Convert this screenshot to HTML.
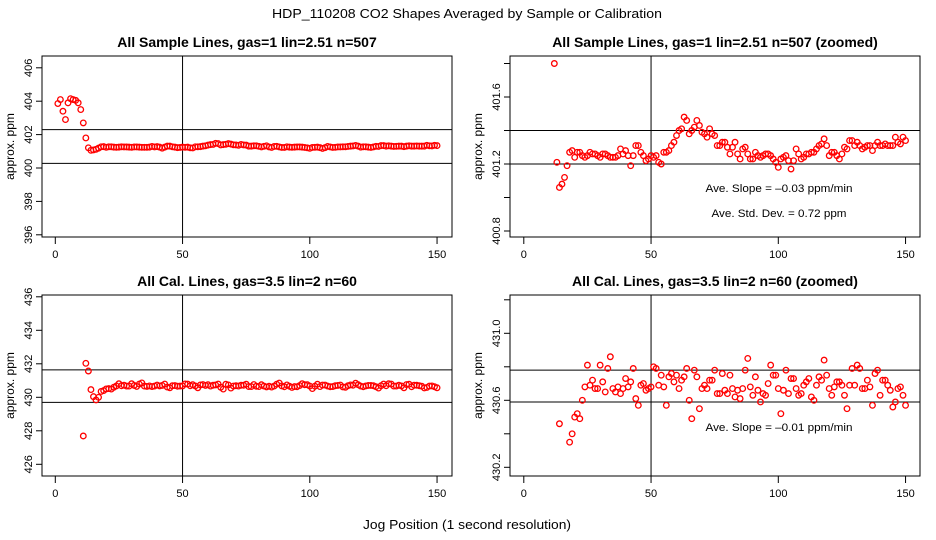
<!DOCTYPE html>
<html><head><meta charset="utf-8"><style>
html,body{margin:0;padding:0;background:#fff;width:936px;height:540px;overflow:hidden}
svg{display:block;position:absolute;left:0;top:0;font-family:"Liberation Sans",sans-serif}
</style></head><body>
<svg id="fig" width="936" height="540" viewBox="0 0 936 540">
<text x="467" y="18" text-anchor="middle" font-size="13" textLength="390" lengthAdjust="spacingAndGlyphs">HDP_110208  CO2 Shapes Averaged by Sample or Calibration</text>
<text x="467" y="529" text-anchor="middle" font-size="13" textLength="208" lengthAdjust="spacingAndGlyphs">Jog Position (1 second resolution)</text>
</svg>
<script>
const sampleStart = 1;
const sampleValues = [403.86,404.1,403.4,402.9,403.9,404.15,404.1,404.05,403.9,403.5,402.7,
401.80,401.21,401.06,401.08,401.12,401.19,401.27,401.28,401.24,401.27,401.27,401.25,401.24,401.25,401.27,401.26,401.26,401.25,401.24,401.26,401.26,401.25,401.24,401.24,401.24,401.25,401.29,401.26,401.28,401.25,401.19,401.25,401.31,401.31,401.27,401.25,401.22,401.23,401.25,401.24,401.25,401.21,401.20,401.27,401.27,401.28,401.31,401.33,401.37,401.40,401.41,401.48,401.46,401.38,401.40,401.42,401.46,401.43,401.39,401.38,401.36,401.41,401.38,401.37,401.31,
401.31,401.33,401.33,401.30,401.26,401.30,401.33,401.26,401.23,401.29,401.30,401.26,401.23,401.23,401.27,401.25,401.24,401.25,401.26,401.26,401.25,401.23,401.21,401.18,401.23,401.24,401.25,401.22,401.17,401.22,401.29,401.26,401.23,401.24,401.26,401.26,401.27,401.27,401.29,401.31,401.32,401.35,401.31,401.25,401.27,401.27,401.25,401.23,401.26,401.30,401.29,401.34,401.34,401.31,401.33,401.31,401.29,401.30,401.31,401.31,401.28,401.31,401.33,401.31,401.31,401.32,401.31,401.31,401.31,401.36,401.33,401.32,401.36,401.34];
const calStart = 11;
const calValues = [427.69,432.03,431.57,430.46,430.04,429.84,430.0,430.35,430.40,430.50,430.52,430.49,430.60,430.68,430.81,430.69,430.72,430.67,430.67,430.81,430.71,430.65,430.79,430.86,430.67,430.65,430.68,430.64,430.67,430.73,430.68,430.71,430.79,430.61,430.57,430.69,430.70,430.66,430.67,430.68,430.80,430.79,430.69,430.75,430.68,430.57,430.74,430.76,430.71,430.75,430.67,430.72,430.74,430.79,430.60,430.49,430.78,430.74,430.55,430.67,430.69,430.67,430.72,430.72,430.78,430.64,
430.64,430.76,430.66,430.64,430.75,430.67,430.62,430.66,430.61,430.67,430.78,430.85,430.68,430.63,430.74,430.66,430.59,430.64,430.63,430.70,430.81,430.75,430.75,430.67,430.52,430.66,430.78,430.64,430.73,430.73,430.67,430.63,430.64,430.69,430.71,430.73,430.62,430.60,430.69,430.74,430.72,430.84,430.75,430.67,430.63,430.68,430.71,430.71,430.69,430.63,430.55,430.69,430.79,430.69,430.81,430.79,430.67,430.67,430.72,430.68,430.57,430.76,430.78,430.63,430.72,430.72,430.69,430.66,430.56,430.59,430.67,430.68,430.63,430.57];
const xTicks = [0,50,100,150];
const p1Ticks = [396,398,400,402,404,406];
const p1Labels = ["396","398","400","402","404","406"];
const p2Ticks = [400.8,401.0,401.2,401.4,401.6,401.8];
const p2Labels = ["400.8","","401.2","","401.6",""];
const p3Ticks = [426,428,430,432,434,436];
const p3Labels = ["426","428","430","432","434","436"];
const p4Ticks = [430.2,430.4,430.6,430.8,431.0,431.2];
const p4Labels = ["430.2","","430.6","","431.0",""];
const p1Lines = [402.3,400.28];
const p2Lines = [401.4,401.2];
const p3Lines = [431.64,429.7];
const p4Lines = [430.78,430.59];

const NS="http://www.w3.org/2000/svg";
const svg=document.getElementById('fig');
function mk(tag,attrs,parent){const e=document.createElementNS(NS,tag);for(const k in attrs)e.setAttribute(k,attrs[k]);(parent||svg).appendChild(e);return e;}

const panels=[
 {name:'sample',title:'All Sample Lines, gas=1 lin=2.51 n=507',L:42,T:56,R:452,B:237,x0:55.3,yRef:400,yPix:168,yScale:16.7,ticks:p1Ticks,labels:p1Labels,lines:p1Lines,vals:sampleValues,start:sampleStart,notes:[]},
 {name:'sample-zoomed',title:'All Sample Lines, gas=1 lin=2.51 n=507 (zoomed)',L:510,T:56,R:920,B:237,x0:523.8,yRef:401.2,yPix:164,yScale:167.5,ticks:p2Ticks,labels:p2Labels,lines:p2Lines,vals:sampleValues,start:sampleStart,notes:[['Ave. Slope =  \u20130.03  ppm/min',192,147],['Ave. Std. Dev. =  0.72  ppm',217,135]]},
 {name:'cal',title:'All Cal. Lines, gas=3.5 lin=2 n=60',L:42,T:295,R:452,B:476,x0:55.3,yRef:430,yPix:397.3,yScale:16.75,ticks:p3Ticks,labels:p3Labels,lines:p3Lines,vals:calValues,start:calStart,notes:[]},
 {name:'cal-zoomed',title:'All Cal. Lines, gas=3.5 lin=2 n=60 (zoomed)',L:510,T:295,R:920,B:476,x0:523.8,yRef:430.6,yPix:400.3,yScale:167.5,ticks:p4Ticks,labels:p4Labels,lines:p4Lines,vals:calValues,start:calStart,notes:[['Ave. Slope =  \u20130.01  ppm/min',431,147]]}
];
const XS=2.545;
panels.forEach((p,pi)=>{
 const g=mk('g',{});
 
 
 const xs=v=>p.x0+v*XS;
 const ys=v=>p.yPix-(v-p.yRef)*p.yScale;
 const t=mk('text',{x:(p.L+p.R)/2,y:p.T-9,'text-anchor':'middle','font-size':14,'font-weight':'bold'},g);
 t.textContent=p.title;
 
 
 const yl=mk('text',{x:0,y:0,'text-anchor':'middle','font-size':12,transform:`translate(${p.L-28},${(p.T+p.B)/2}) rotate(-90)`},g);
 yl.textContent='approx. ppm';
 
 
 const cid='clip'+pi;
 const cp=mk('clipPath',{id:cid},g);mk('rect',{x:p.L,y:p.T,width:p.R-p.L,height:p.B-p.T},cp);
 xTicks.forEach(v=>{
  const x=xs(v);
  const tk=mk('line',{x1:x,x2:x,y1:p.B,y2:p.B+7,stroke:'#000','stroke-width':1},g);
  
  
  const tl=mk('text',{x:x,y:p.B+21,'text-anchor':'middle','font-size':11},g);
  tl.textContent=String(v);
  
  
 });
 p.ticks.forEach((v,i)=>{
  const y=ys(v);
  const tk=mk('line',{x1:p.L-6,x2:p.L,y1:y,y2:y,stroke:'#000','stroke-width':1},g);
  
  
  if(p.labels[i]){
   const tl=mk('text',{x:0,y:0,'text-anchor':'middle','font-size':11,transform:`translate(${p.L-10},${y}) rotate(-90)`},g);
   tl.textContent=p.labels[i];
   
   
  }
 });
 const pg=mk('g',{'clip-path':`url(#${cid})`},g);
 p.lines.forEach(v=>{
  const hl=mk('line',{x1:p.L,x2:p.R,y1:ys(v),y2:ys(v),stroke:'#000','stroke-width':1},pg);
  
  
 });
 const vl=mk('line',{x1:xs(50),x2:xs(50),y1:p.T,y2:p.B,stroke:'#000','stroke-width':1},pg);
 
 
 p.vals.forEach((v,i)=>{
  const c=mk('circle',{cx:xs(p.start+i),cy:ys(v),r:2.8,fill:'none',stroke:'#ff0000','stroke-width':1.3},pg);
  
  
 });
 p.notes.forEach(n=>{
  const tx=mk('text',{x:779,y:n[1],'text-anchor':'middle','font-size':11,textLength:n[2],lengthAdjust:'spacingAndGlyphs'},g);
  tx.textContent=n[0];
  
  
 });
 const bx=mk('rect',{x:p.L,y:p.T,width:p.R-p.L,height:p.B-p.T,fill:'none',stroke:'#000','stroke-width':1},g);
 
 
});
</script>
</body></html>
